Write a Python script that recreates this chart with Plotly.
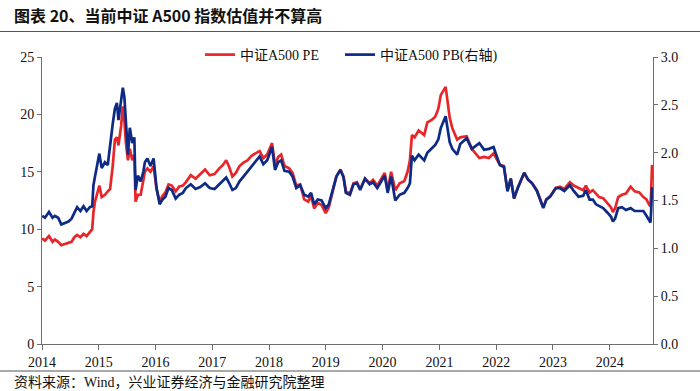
import plotly.graph_objects as go

dates = [
"2014-01-02","2014-01-20","2014-02-15","2014-03-10","2014-03-25","2014-04-15","2014-05-05","2014-05-25",
"2014-06-20","2014-07-10","2014-07-28","2014-08-15","2014-09-05","2014-09-25","2014-10-15","2014-11-05",
"2014-11-20","2014-11-28","2014-12-08","2014-12-20","2015-01-05","2015-01-20","2015-02-10","2015-02-28",
"2015-03-15","2015-04-01","2015-04-15","2015-04-28","2015-05-08","2015-05-25","2015-06-05","2015-06-15",
"2015-06-25","2015-07-08","2015-07-20","2015-08-05","2015-08-18","2015-08-26","2015-09-10","2015-09-28",
"2015-10-15","2015-10-25","2015-11-10","2015-11-30","2015-12-20","2016-01-08","2016-01-28","2016-02-15",
"2016-03-05","2016-03-25","2016-04-15","2016-05-10","2016-06-01","2016-06-25","2016-07-15","2016-08-15",
"2016-09-15","2016-10-15","2016-11-15","2016-12-15","2017-01-15","2017-02-15","2017-03-10","2017-03-31",
"2017-04-20","2017-05-10","2017-06-01","2017-06-25","2017-07-20","2017-08-15","2017-09-10","2017-10-05",
"2017-11-01","2017-11-25","2017-12-20","2018-01-20","2018-02-08","2018-03-01","2018-03-20","2018-04-10",
"2018-05-10","2018-06-01","2018-06-25","2018-07-20","2018-08-15","2018-09-10","2018-09-28","2018-10-18",
"2018-11-10","2018-12-05","2018-12-31","2019-01-20","2019-02-15","2019-03-10","2019-04-05","2019-04-25",
"2019-05-10","2019-06-05","2019-06-28","2019-07-20","2019-08-10","2019-09-10","2019-10-10","2019-11-01",
"2019-11-28","2019-12-25","2020-01-15","2020-02-03","2020-02-25","2020-03-23","2020-04-20","2020-05-20",
"2020-06-10","2020-06-25","2020-07-08","2020-07-25","2020-08-20","2020-09-25","2020-10-15","2020-11-10",
"2020-12-05","2020-12-25","2021-01-10","2021-02-10","2021-03-08","2021-03-25","2021-04-25","2021-05-15",
"2021-06-25","2021-07-28","2021-08-25","2021-09-15","2021-10-15","2021-11-15","2021-12-15","2022-01-25",
"2022-02-20","2022-03-15","2022-04-05","2022-04-26","2022-05-20","2022-06-30","2022-07-25","2022-08-20",
"2022-09-20","2022-10-20","2022-10-31","2022-11-20","2022-12-15","2023-01-20","2023-02-15","2023-03-15",
"2023-04-20","2023-05-15","2023-06-15","2023-07-15","2023-08-01","2023-08-25","2023-09-15","2023-10-05",
"2023-10-25","2023-11-20","2023-12-20","2024-01-10","2024-01-22","2024-02-05","2024-02-25","2024-03-20",
"2024-04-15","2024-05-15","2024-06-10","2024-07-10","2024-08-05","2024-08-25","2024-09-13","2024-09-20",
"2024-09-24","2024-09-30"]

pe = [
9.2,9.0,9.4,8.9,9.1,8.9,8.6,8.7,
8.8,8.9,9.3,9.5,9.3,9.6,9.4,9.8,
10.0,11.5,12.4,13.0,13.8,12.8,13.0,13.3,
13.5,15.5,17.8,18.0,17.3,19.0,20.7,19.5,
17.5,16.0,17.0,16.0,16.5,12.4,13.0,13.0,
14.3,15.0,15.3,15.0,15.5,13.5,12.4,12.9,
13.2,13.9,13.8,13.3,13.7,13.8,14.1,14.7,
14.4,14.8,15.2,14.7,14.8,15.3,15.6,16.0,
15.4,14.6,14.9,15.5,15.8,16.0,16.4,16.6,
16.8,16.2,16.5,17.5,15.6,16.3,16.5,15.5,
15.3,14.9,13.8,13.9,12.6,12.4,12.9,11.8,
12.3,12.1,11.4,11.9,13.2,14.6,15.2,14.6,
13.3,13.1,14.0,14.1,13.5,14.4,14.0,14.3,
13.8,14.4,14.9,13.4,15.0,13.4,14.0,14.2,
15.0,16.0,18.2,18.0,18.6,18.2,19.3,19.5,
19.8,20.5,21.7,22.4,19.7,18.8,17.8,18.0,
18.1,17.0,16.5,16.2,16.3,16.2,16.6,15.6,
15.5,13.3,14.4,12.7,13.6,14.9,14.3,14.0,
13.4,12.3,11.9,12.6,12.9,13.6,13.7,13.5,
14.1,13.8,13.6,13.4,13.8,13.2,13.4,13.1,
12.8,12.7,12.2,11.9,11.5,11.8,12.8,13.0,
13.1,13.7,13.3,13.2,12.8,12.6,12.1,12.0,
13.2,15.6]

pb = [
1.34,1.32,1.38,1.32,1.34,1.32,1.25,1.26,
1.28,1.31,1.38,1.43,1.39,1.44,1.39,1.43,
1.44,1.66,1.75,1.86,1.99,1.84,1.90,1.87,
2.10,2.30,2.46,2.52,2.34,2.52,2.68,2.58,
2.30,1.98,2.26,2.10,2.16,1.61,1.76,1.70,
1.80,1.90,1.94,1.86,1.94,1.63,1.46,1.51,
1.54,1.63,1.61,1.52,1.56,1.58,1.63,1.67,
1.62,1.64,1.68,1.63,1.62,1.67,1.70,1.74,
1.68,1.61,1.63,1.70,1.75,1.80,1.86,1.91,
1.96,1.88,1.92,2.06,1.82,1.90,1.92,1.81,
1.80,1.75,1.63,1.66,1.56,1.54,1.58,1.46,
1.51,1.50,1.42,1.46,1.60,1.75,1.82,1.74,
1.58,1.56,1.67,1.68,1.61,1.73,1.67,1.69,
1.63,1.70,1.76,1.58,1.75,1.50,1.56,1.58,
1.63,1.68,1.97,1.92,1.98,1.92,2.00,2.04,
2.08,2.14,2.26,2.38,2.11,2.04,1.98,2.09,
2.15,2.04,2.08,2.10,2.03,2.04,2.06,1.87,
1.85,1.60,1.73,1.52,1.63,1.79,1.72,1.68,
1.60,1.48,1.42,1.51,1.54,1.63,1.63,1.60,
1.66,1.60,1.54,1.55,1.61,1.51,1.51,1.46,
1.44,1.42,1.37,1.33,1.28,1.31,1.42,1.43,
1.40,1.42,1.39,1.39,1.39,1.34,1.28,1.27,
1.39,1.64]

year_ticks = [str(y) for y in range(2014, 2025)]

title_text = "图表 20、当前中证 A500 指数估值并不算高"
source_text = "资料来源：Wind，兴业证券经济与金融研究院整理"
pe_name = "中证A500 PE"
pb_name = "中证A500 PB(右轴)"

RED = "#E8262A"
BLUE = "#0D2A85"
AX = "#6e6e6e"
SERIF = "Liberation Serif, Times New Roman, Noto Sans CJK SC, serif"

fig = go.Figure()
fig.add_trace(go.Scatter(x=dates, y=pe, name=pe_name, mode="lines", legend="legend",
                         line=dict(color=RED, width=2.7)))
fig.add_trace(go.Scatter(x=dates, y=pb, name=pb_name, mode="lines", yaxis="y2", legend="legend2",
                         line=dict(color=BLUE, width=2.7)))

W, H = 700, 391
L, R, T, B = 42, 47, 57, 47
PW, PH = W - L - R, H - T - B


def px_x(x):
    return (x - L) / PW


def px_y(y):
    return (H - B - y) / PH


legend_common = dict(orientation="h", xanchor="left", y=px_y(55), yanchor="middle",
                     font=dict(family=SERIF, size=14, color="#111"),
                     bgcolor="rgba(0,0,0,0)", itemwidth=30)

fig.update_layout(
    width=W, height=H,
    margin=dict(l=L, r=R, t=T, b=B),
    paper_bgcolor="white", plot_bgcolor="white",
    showlegend=True,
    legend=dict(x=px_x(200), **legend_common),
    legend2=dict(x=px_x(340), **legend_common),
    xaxis=dict(type="date", range=["2014-01-01", "2024-10-06"],
               tickmode="array",
               tickvals=[f"{y}-01-01" for y in year_ticks],
               ticktext=year_ticks,
               ticks="outside", ticklen=5, tickcolor=AX,
               showline=True, linecolor=AX, linewidth=1,
               showgrid=False, zeroline=False,
               tickfont=dict(family=SERIF, size=14, color="#111")),
    yaxis=dict(range=[0, 25], dtick=5, tick0=0,
               ticks="outside", ticklen=4, tickcolor=AX,
               showline=True, linecolor=AX, linewidth=1,
               showgrid=False, zeroline=False,
               tickfont=dict(family=SERIF, size=14, color="#111")),
    yaxis2=dict(range=[0, 3], dtick=0.5, tick0=0, tickformat=".1f",
                overlaying="y", side="right", anchor="x",
                ticks="outside", ticklen=4, tickcolor=AX,
                showline=True, linecolor=AX, linewidth=1,
                showgrid=False, zeroline=False,
                tickfont=dict(family=SERIF, size=14, color="#111")),
    shapes=[
        dict(type="line", xref="paper", yref="paper",
             x0=px_x(0), x1=px_x(W), y0=px_y(31.5), y1=px_y(31.5),
             line=dict(color="#555", width=1.2)),
        dict(type="line", xref="paper", yref="paper",
             x0=px_x(0), x1=px_x(W), y0=px_y(371), y1=px_y(371),
             line=dict(color="#555", width=1.2)),
    ],
    annotations=[
        dict(text="<b>" + title_text + "</b>", xref="paper", yref="paper",
             x=px_x(12), xanchor="left", y=px_y(15), yanchor="middle",
             showarrow=False, font=dict(family="Noto Sans CJK SC", size=16, color="#111")),
        dict(text=source_text, xref="paper", yref="paper",
             x=px_x(12), xanchor="left", y=px_y(382.5), yanchor="middle",
             showarrow=False, font=dict(family=SERIF, size=14, color="#111")),
    ],
)

fig.write_html("out.html", config={"displayModeBar": False},
               post_script="document.body.style.margin='0';document.body.style.overflow='hidden';")
